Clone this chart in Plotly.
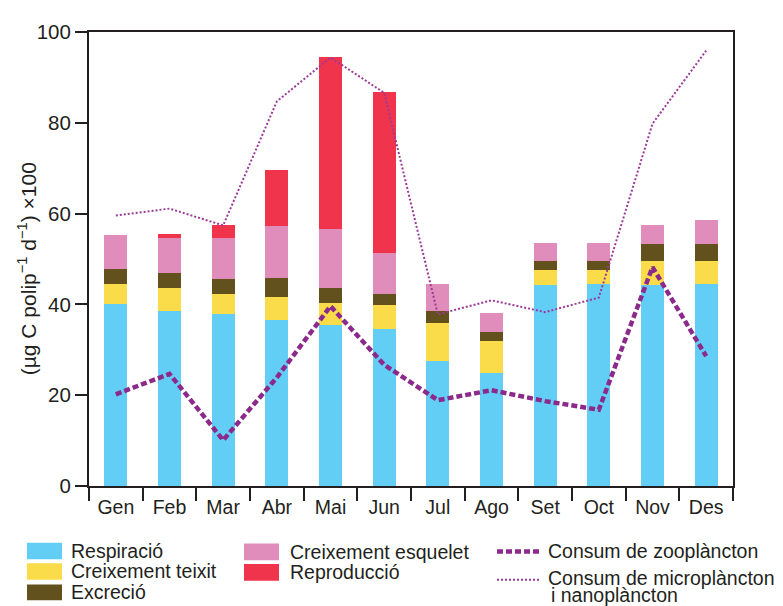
import plotly.graph_objects as go

months = ["Gen", "Feb", "Mar", "Abr", "Mai", "Jun", "Jul", "Ago", "Set", "Oct", "Nov", "Des"]

respiracio = [40.0, 38.5, 37.8, 36.6, 35.5, 34.6, 27.5, 24.9, 44.3, 44.5, 44.3, 44.5]
creix_teixit = [4.5, 5.2, 4.6, 5.1, 4.9, 5.2, 8.4, 7.1, 3.2, 3.0, 5.2, 5.0]
excrecio = [3.2, 3.2, 3.2, 4.1, 3.3, 2.6, 2.6, 2.0, 2.0, 2.0, 3.8, 3.8]
creix_esquelet = [7.6, 7.7, 9.0, 11.4, 12.9, 9.0, 6.0, 4.1, 4.0, 4.0, 4.1, 5.4]
reproduccio = [0.0, 0.9, 2.8, 12.5, 37.8, 35.3, 0.0, 0.0, 0.0, 0.0, 0.0, 0.0]

zooplancton = [20.2, 24.7, 10.1, 23.9, 39.6, 26.7, 18.9, 21.1, 18.7, 16.8, 48.2, 28.6]
microplancton = [59.6, 61.1, 57.4, 84.7, 94.4, 86.6, 37.8, 40.9, 38.3, 41.5, 79.8, 95.9]

y_ticks = [0, 20, 40, 60, 80, 100]

C_BLUE = "#62CDF5"
C_YELLOW = "#FADC4B"
C_BROWN = "#63511D"
C_PINK = "#E08DBB"
C_RED = "#EF344B"
C_PURPLE = "#8C2A8C"
C_PURPLE2 = "#9B3A98"
C_TEXT = "#231F20"
FONT = "Liberation Sans, Arial, sans-serif"

# page body has an 8px margin: the figure starts at (8, 8) in the window
OFF = 8
W, H = 783 - OFF, 606 - OFF
L, R, T, B = 89 - OFF, 50, 21 - OFF, 120
PW, PH = W - L - R, H - T - B


def px(x):
    return (x - OFF - L) / PW


def py(y):
    return (H - B - (y - OFF)) / PH


fig = go.Figure()
bar_series = [
    ("Respiració", respiracio, C_BLUE),
    ("Creixement teixit", creix_teixit, C_YELLOW),
    ("Excreció", excrecio, C_BROWN),
    ("Creixement esquelet", creix_esquelet, C_PINK),
    ("Reproducció", reproduccio, C_RED),
]
for name, vals, col in bar_series:
    fig.add_trace(go.Bar(x=months, y=vals, name=name, marker=dict(color=col, line=dict(width=0)),
                         width=0.43, showlegend=False))

fig.add_trace(go.Scatter(x=months, y=microplancton, mode="lines", name="Consum de microplàncton i nanoplàncton",
                         line=dict(color=C_PURPLE2, width=2, dash="2px,2px"), showlegend=False))
fig.add_trace(go.Scatter(x=months, y=zooplancton, mode="lines", name="Consum de zooplàncton",
                         line=dict(color=C_PURPLE, width=4.5, dash="6px,3px"), showlegend=False))

shapes = []
annotations = []
LEG_FONT = dict(size=19.5, color=C_TEXT, family=FONT)

legend_boxes = [
    (27, 62, 544, 561, C_BLUE, "Respiració", 69),
    (27, 62, 565, 582, C_YELLOW, "Creixement teixit", 69),
    (27, 62, 587, 603, C_BROWN, "Excreció", 69),
    (244, 279, 545, 562, C_PINK, "Creixement esquelet", 288),
    (244, 279, 566, 583, C_RED, "Reproducció", 288),
]
for x0, x1, y0, y1, col, label, tx in legend_boxes:
    shapes.append(dict(type="rect", xref="paper", yref="paper", x0=px(x0), x1=px(x1), y0=py(y1), y1=py(y0),
                       fillcolor=col, line=dict(width=0)))
    annotations.append(dict(xref="paper", yref="paper", x=px(tx), y=py((y0 + y1) / 2), text=label,
                            showarrow=False, xanchor="left", yanchor="middle", font=LEG_FONT))

shapes.append(dict(type="line", xref="paper", yref="paper", x0=px(497), x1=px(540), y0=py(553), y1=py(553),
                   line=dict(color=C_PURPLE, width=4.5, dash="6px,3px")))
annotations.append(dict(xref="paper", yref="paper", x=px(546), y=py(553), text="Consum de zooplàncton",
                        showarrow=False, xanchor="left", yanchor="middle", font=LEG_FONT))
shapes.append(dict(type="line", xref="paper", yref="paper", x0=px(497), x1=px(540), y0=py(582), y1=py(582),
                   line=dict(color=C_PURPLE2, width=2, dash="2px,2px")))
annotations.append(dict(xref="paper", yref="paper", x=px(546), y=py(580), text="Consum de microplàncton",
                        showarrow=False, xanchor="left", yanchor="middle", font=LEG_FONT))
annotations.append(dict(xref="paper", yref="paper", x=px(549), y=py(598), text="i nanoplàncton",
                        showarrow=False, xanchor="left", yanchor="middle", font=LEG_FONT))

annotations.append(dict(xref="paper", yref="paper", x=px(27), y=py(264),
                        text="(µg C polip<sup>−1</sup> d<sup>−1</sup>) ×100", textangle=-90,
                        showarrow=False, xanchor="center", yanchor="middle",
                        font=dict(size=21, color=C_TEXT, family=FONT)))

fig.update_layout(
    width=W, height=H,
    margin=dict(l=L, r=R, t=T, b=B, pad=0),
    barmode="stack",
    plot_bgcolor="white", paper_bgcolor="white",
    font=dict(family=FONT, size=19, color=C_TEXT),
    shapes=shapes, annotations=annotations,
    showlegend=False,
)
fig.update_xaxes(
    type="category", showgrid=False, showline=True, linecolor=C_TEXT, linewidth=2, mirror=True,
    ticks="outside", tickson="boundaries", ticklen=13, tickwidth=2, tickcolor=C_TEXT,
    tickfont=dict(size=19.5, color=C_TEXT, family=FONT), range=[-0.5, 11.5], ticklabelstandoff=3,
)
fig.update_yaxes(
    range=[0, 100], tickvals=y_ticks, showgrid=False, zeroline=False, showline=True, linecolor=C_TEXT,
    linewidth=2, mirror=True, ticks="outside", ticklen=12, tickwidth=2, tickcolor=C_TEXT,
    tickfont=dict(size=20.5, color=C_TEXT, family=FONT),
)

fig.write_html("out.html")
